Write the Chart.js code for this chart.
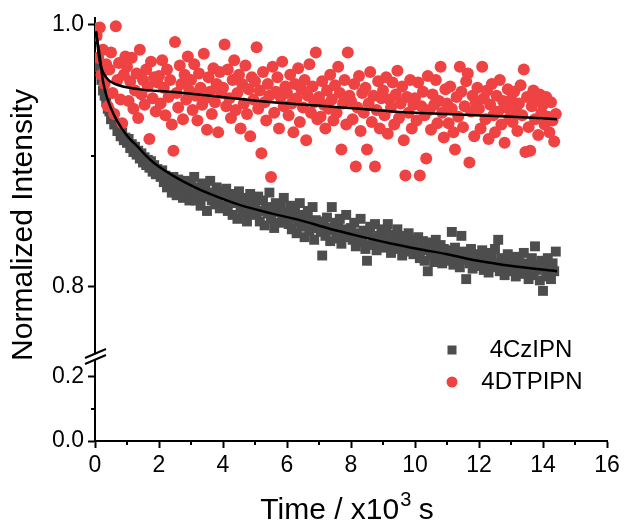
<!DOCTYPE html>
<html>
<head>
<meta charset="utf-8">
<script src="https://cdn.jsdelivr.net/npm/chart.js@4"></script>
<style>
    html, body { margin: 0; padding: 0; background: #fff; }
    #wrap { width: 624px; height: 524px; }
</style>
</head>
<body>
<div id="wrap"><canvas id="decay-chart" width="624" height="524"></canvas></div>
<script>
// series names
const seriesNames = ["4CzIPN", "4DTPIPN"];

// sampling of the measurement (x10^3 s)
const timeStep = 0.05;

// 4CzIPN normalized intensity, one row per 10^3 s
const czipnValues = [
    0.998, 0.992, 0.975, 0.968, 0.958, 0.950, 0.946, 0.941, 0.936, 0.934, 0.928, 0.931, 0.924, 0.925, 0.919, 0.921, 0.915, 0.918, 0.912, 0.914,
    0.910, 0.913, 0.906, 0.909, 0.903, 0.907, 0.901, 0.904, 0.898, 0.902, 0.895, 0.899, 0.893, 0.897, 0.891, 0.896, 0.888, 0.893, 0.886, 0.890,
    0.887, 0.884, 0.889, 0.880, 0.885, 0.876, 0.883, 0.879, 0.872, 0.884, 0.877, 0.870, 0.882, 0.875, 0.879, 0.868, 0.881, 0.873, 0.877, 0.866,
    0.880, 0.871, 0.884, 0.866, 0.876, 0.873, 0.862, 0.879, 0.869, 0.874, 0.858, 0.872, 0.881, 0.866, 0.870, 0.863, 0.876, 0.868, 0.860, 0.873,
    0.870, 0.862, 0.875, 0.858, 0.866, 0.871, 0.855, 0.864, 0.869, 0.852, 0.873, 0.861, 0.857, 0.868, 0.863, 0.850, 0.866, 0.871, 0.856, 0.862,
    0.863, 0.855, 0.869, 0.850, 0.858, 0.866, 0.847, 0.861, 0.856, 0.872, 0.852, 0.859, 0.845, 0.864, 0.857, 0.849, 0.862, 0.854, 0.868, 0.851,
    0.857, 0.848, 0.862, 0.844, 0.853, 0.859, 0.841, 0.850, 0.864, 0.846, 0.855, 0.838, 0.852, 0.858, 0.843, 0.849, 0.861, 0.836, 0.851, 0.845,
    0.850, 0.842, 0.824, 0.848, 0.839, 0.853, 0.845, 0.835, 0.861, 0.843, 0.849, 0.837, 0.846, 0.852, 0.833, 0.844, 0.840, 0.855, 0.838, 0.843,
    0.845, 0.836, 0.849, 0.831, 0.841, 0.838, 0.852, 0.834, 0.843, 0.829, 0.820, 0.840, 0.846, 0.832, 0.837, 0.848, 0.828, 0.839, 0.835, 0.844,
    0.838, 0.830, 0.843, 0.848, 0.833, 0.826, 0.840, 0.835, 0.829, 0.844, 0.831, 0.837, 0.824, 0.839, 0.833, 0.827, 0.841, 0.830, 0.836, 0.825,
    0.833, 0.826, 0.838, 0.822, 0.830, 0.835, 0.820, 0.828, 0.812, 0.834, 0.824, 0.831, 0.819, 0.836, 0.827, 0.823, 0.832, 0.818, 0.829, 0.825,
    0.828, 0.820, 0.824, 0.842, 0.817, 0.830, 0.822, 0.826, 0.815, 0.839, 0.821, 0.827, 0.806, 0.823, 0.818, 0.829, 0.814, 0.825, 0.820, 0.816,
    0.824, 0.817, 0.828, 0.813, 0.821, 0.826, 0.811, 0.819, 0.823, 0.815, 0.829, 0.818, 0.836, 0.812, 0.822, 0.816, 0.809, 0.820, 0.825, 0.814,
    0.819, 0.812, 0.823, 0.808, 0.816, 0.821, 0.810, 0.814, 0.826, 0.811, 0.818, 0.806, 0.815, 0.822, 0.809, 0.831, 0.813, 0.817, 0.805, 0.820,
    0.797, 0.815, 0.808, 0.822, 0.811, 0.806, 0.818, 0.812, 0.827
];

// 4DTPIPN normalized intensity, one row per 10^3 s
const dtpipnValues = [
    0.997, 0.992, 0.975, 0.998, 0.962, 0.981, 0.955, 0.970, 0.938, 0.966, 0.979, 0.948, 0.932, 0.999, 0.958, 0.971, 0.943, 0.925, 0.962, 0.976,
    0.968, 0.942, 0.957, 0.975, 0.936, 0.950, 0.963, 0.929, 0.981, 0.947, 0.958, 0.939, 0.966, 0.953, 0.913, 0.972, 0.944, 0.960, 0.934, 0.956,
    0.961, 0.940, 0.973, 0.952, 0.931, 0.966, 0.945, 0.958, 0.924, 0.904, 0.987, 0.948, 0.937, 0.969, 0.955, 0.928, 0.962, 0.943, 0.976, 0.950,
    0.958, 0.935, 0.970, 0.946, 0.927, 0.963, 0.952, 0.939, 0.978, 0.944, 0.920, 0.960, 0.949, 0.932, 0.967, 0.941, 0.955, 0.918, 0.964, 0.948,
    0.952, 0.985, 0.938, 0.966, 0.944, 0.929, 0.958, 0.973, 0.935, 0.948, 0.962, 0.921, 0.955, 0.940, 0.969, 0.932, 0.951, 0.915, 0.960, 0.943,
    0.957, 0.983, 0.936, 0.950, 0.902, 0.964, 0.941, 0.927, 0.955, 0.946, 0.884, 0.968, 0.933, 0.949, 0.960, 0.921, 0.945, 0.972, 0.938, 0.953,
    0.948, 0.931, 0.962, 0.940, 0.918, 0.955, 0.944, 0.967, 0.926, 0.951, 0.937, 0.958, 0.912, 0.946, 0.970, 0.933, 0.953, 0.941, 0.979, 0.928,
    0.945, 0.930, 0.957, 0.939, 0.921, 0.950, 0.936, 0.962, 0.943, 0.927, 0.954, 0.933, 0.968, 0.948, 0.905, 0.940, 0.958, 0.924, 0.979, 0.946,
    0.942, 0.928, 0.955, 0.892, 0.937, 0.961, 0.919, 0.948, 0.933, 0.952, 0.905, 0.940, 0.964, 0.926, 0.946, 0.892, 0.935, 0.957, 0.921, 0.944,
    0.950, 0.931, 0.960, 0.917, 0.943, 0.937, 0.956, 0.924, 0.947, 0.965, 0.929, 0.940, 0.953, 0.912, 0.885, 0.945, 0.933, 0.958, 0.921, 0.939,
    0.944, 0.927, 0.956, 0.885, 0.938, 0.949, 0.931, 0.898, 0.961, 0.935, 0.920, 0.947, 0.939, 0.958, 0.925, 0.942, 0.968, 0.933, 0.914, 0.951,
    0.940, 0.925, 0.953, 0.936, 0.918, 0.905, 0.945, 0.930, 0.968, 0.949, 0.922, 0.938, 0.957, 0.963, 0.895, 0.934, 0.946, 0.915, 0.941, 0.952,
    0.936, 0.921, 0.968, 0.944, 0.928, 0.950, 0.913, 0.939, 0.955, 0.931, 0.918, 0.946, 0.934, 0.958, 0.924, 0.942, 0.910, 0.937, 0.951, 0.929,
    0.943, 0.926, 0.949, 0.935, 0.919, 0.940, 0.954, 0.931, 0.966, 0.903, 0.945, 0.922, 0.904, 0.938, 0.950, 0.928, 0.942, 0.916, 0.947, 0.933,
    0.939, 0.924, 0.945, 0.930, 0.918, 0.941, 0.927, 0.911, 0.932
];

// fitted decay curves
const czipnFitTimes  = [0.03, 0.15, 0.25, 0.41, 0.6, 0.81, 1.05, 1.34, 1.6, 1.875, 2.5, 3.125, 3.59, 4.47, 5.53, 6.4, 7.25, 8.22, 9.28, 10.1, 11.0, 11.97, 13.03, 14.44];
const czipnFitValues = [0.995, 0.976, 0.957, 0.942, 0.931, 0.922, 0.914, 0.907, 0.900, 0.894, 0.884, 0.876, 0.871, 0.863, 0.856, 0.851, 0.845, 0.839, 0.833, 0.829, 0.825, 0.820, 0.816, 0.812];
const dtpipnFitTimes  = [0.03, 0.15, 0.35, 0.63, 1.34, 2.375, 3.59, 5.53, 7.25, 9.28, 11.0, 13.03, 14.44];
const dtpipnFitValues = [0.995, 0.972, 0.960, 0.955, 0.951, 0.949, 0.946, 0.941, 0.938, 0.934, 0.932, 0.930, 0.928];

// axis ticks
const xMajorTicks = [0, 2, 4, 6, 8, 10, 12, 14, 16];
const xMinorTicks = [1, 3, 5, 7, 9, 11, 13, 15];
const yHighTicks = [0.8, 1.0];
const yHighMinorTicks = [0.9];
const yLowTicks = [0.0, 0.2];
const yLowMinorTicks = [0.1];

const grayColor = "#4d4d4d";
const redColor = "#ef4242";
const fontFamily = "'Liberation Sans', Arial, sans-serif";

function toPoints(values) {
    return values.map((v, i) => ({ x: +(i * timeStep).toFixed(2), y: v }));
}
function pairPoints(times, values) {
    return times.map((t, i) => ({ x: t, y: values[i] }));
}

// minor ticks, axis break, axis titles and legend
const decorations = {
    id: "decorations",
    afterDraw(chart) {
        const ctx = chart.ctx;
        const xs = chart.scales.x, yHigh = chart.scales.yHigh, yLow = chart.scales.yLow;
        const axisX = chart.chartArea.left;
        ctx.save();
        ctx.strokeStyle = "#000";
        ctx.lineWidth = 2;

        // minor ticks
        ctx.beginPath();
        xMinorTicks.forEach(v => {
            const px = Math.round(xs.getPixelForValue(v));
            ctx.moveTo(px, xs.top);
            ctx.lineTo(px, xs.top + 4);
        });
        yHighMinorTicks.forEach(v => {
            const py = Math.round(yHigh.getPixelForValue(v));
            ctx.moveTo(axisX, py);
            ctx.lineTo(axisX - 4, py);
        });
        yLowMinorTicks.forEach(v => {
            const py = Math.round(yLow.getPixelForValue(v));
            ctx.moveTo(axisX, py);
            ctx.lineTo(axisX - 4, py);
        });
        ctx.stroke();

        // axis break mark
        const b = yHigh.bottom;
        ctx.fillStyle = "#fff";
        ctx.beginPath();
        ctx.moveTo(axisX - 10, b + 2);
        ctx.lineTo(axisX + 11, b - 7);
        ctx.lineTo(axisX + 11, b - 1);
        ctx.lineTo(axisX - 10, b + 8);
        ctx.closePath();
        ctx.fill();
        ctx.beginPath();
        ctx.moveTo(axisX - 10, b + 2);
        ctx.lineTo(axisX + 11, b - 7);
        ctx.moveTo(axisX - 10, b + 8);
        ctx.lineTo(axisX + 11, b - 1);
        ctx.stroke();

        // y axis title
        ctx.fillStyle = "#000";
        ctx.font = "30px " + fontFamily;
        ctx.textAlign = "center";
        ctx.textBaseline = "middle";
        ctx.save();
        ctx.translate(24, 225);
        ctx.rotate(-Math.PI / 2);
        ctx.fillText("Normalized Intensity", 0, 0);
        ctx.restore();

        // x axis title with a real superscript
        const partA = "Time / x10", partSup = "3", partB = " s";
        const mainFont = "30px " + fontFamily, supFont = "20px " + fontFamily;
        ctx.textAlign = "left";
        ctx.textBaseline = "alphabetic";
        ctx.font = mainFont;
        const wA = ctx.measureText(partA).width, wB = ctx.measureText(partB).width;
        ctx.font = supFont;
        const wS = ctx.measureText(partSup).width;
        const cx = (chart.chartArea.left + chart.chartArea.right) / 2 - 4;
        let tx = cx - (wA + wS + wB) / 2;
        const base = 519;
        ctx.font = mainFont;
        ctx.fillText(partA, tx, base);
        tx += wA + 1;
        ctx.font = supFont;
        ctx.fillText(partSup, tx, base - 13);
        tx += wS - 1;
        ctx.font = mainFont;
        ctx.fillText(partB, tx, base);

        // legend
        const lx = 452, ly = 350;
        ctx.fillStyle = grayColor;
        ctx.fillRect(lx - 4.5, ly - 4.5, 9, 9);
        ctx.fillStyle = redColor;
        ctx.beginPath();
        ctx.arc(lx, ly + 32, 5.5, 0, Math.PI * 2);
        ctx.fill();
        ctx.fillStyle = "#000";
        ctx.font = "24px " + fontFamily;
        ctx.textAlign = "center";
        ctx.textBaseline = "middle";
        ctx.fillText(seriesNames[0], 531, ly);
        ctx.fillText(seriesNames[1], 532, ly + 32);
        ctx.restore();
    }
};

const axisCommon = {
    border: { display: true, color: "#000", width: 2 },
    grid: { display: true, drawOnChartArea: false, drawTicks: true, tickLength: 7, tickWidth: 2, tickColor: "#000" },
};

const ctx = document.getElementById("decay-chart").getContext("2d");
const decayChart = new Chart(ctx, {
    type: "scatter",
    data: {
        datasets: [
            {
                type: "line",
                data: pairPoints(czipnFitTimes, czipnFitValues),
                yAxisID: "yHigh",
                borderColor: "#000",
                borderWidth: 2.5,
                pointRadius: 0,
                cubicInterpolationMode: "monotone",
                fill: false,
                order: 0,
            },
            {
                type: "line",
                data: pairPoints(dtpipnFitTimes, dtpipnFitValues),
                yAxisID: "yHigh",
                borderColor: "#000",
                borderWidth: 2.5,
                pointRadius: 0,
                cubicInterpolationMode: "monotone",
                fill: false,
                order: 0,
            },
            {
                label: seriesNames[1],
                data: toPoints(dtpipnValues),
                yAxisID: "yHigh",
                pointStyle: "circle",
                pointRadius: 6,
                borderWidth: 0,
                backgroundColor: redColor,
                order: 1,
            },
            {
                label: seriesNames[0],
                data: toPoints(czipnValues),
                yAxisID: "yHigh",
                pointStyle: "rect",
                pointRadius: 7,
                borderWidth: 0,
                backgroundColor: grayColor,
                order: 2,
            },
        ],
    },
    options: {
        responsive: false,
        animation: false,
        layout: { padding: { top: 18, right: 17, bottom: 0, left: 0 } },
        plugins: {
            legend: { display: false },
            tooltip: { enabled: false },
        },
        scales: {
            x: {
                type: "linear",
                position: "bottom",
                min: 0,
                max: 16,
                ...axisCommon,
                afterBuildTicks: s => { s.ticks = xMajorTicks.map(v => ({ value: v })); },
                afterFit: s => { s.height = 83; },
                ticks: {
                    color: "#000",
                    padding: 4,
                    font: { size: 23, family: fontFamily },
                    maxRotation: 0,
                    callback: v => String(v),
                },
            },
            yLow: {
                type: "linear",
                position: "left",
                stack: "intensity",
                stackWeight: 85,
                min: 0,
                max: 0.2656,
                ...axisCommon,
                afterBuildTicks: s => { s.ticks = yLowTicks.map(v => ({ value: v })); },
                afterFit: s => { s.width = 95; },
                ticks: {
                    color: "#000",
                    padding: 4,
                    font: { size: 23, family: fontFamily },
                    callback: v => v.toFixed(1),
                },
            },
            yHigh: {
                type: "linear",
                position: "left",
                stack: "intensity",
                stackWeight: 338,
                min: 0.7473,
                max: 1.0053,
                ...axisCommon,
                afterBuildTicks: s => { s.ticks = yHighTicks.map(v => ({ value: v })); },
                afterFit: s => { s.width = 95; },
                ticks: {
                    color: "#000",
                    padding: 4,
                    font: { size: 23, family: fontFamily },
                    callback: v => v.toFixed(1),
                },
            },
        },
    },
    plugins: [decorations],
});
</script>
</body>
</html>
